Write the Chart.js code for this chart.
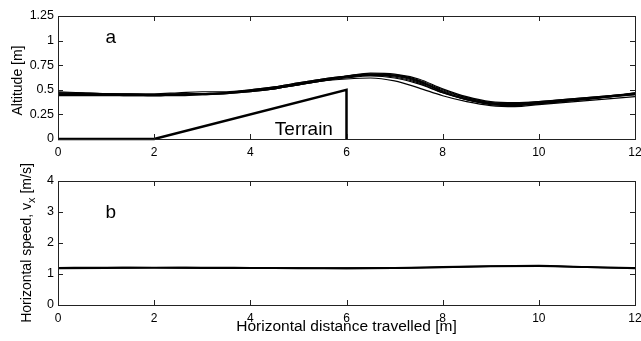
<!DOCTYPE html>
<html lang="en">
<head>
<meta charset="UTF-8">
<title>Altitude and horizontal speed</title>
<script src="https://cdn.jsdelivr.net/npm/chart.js"></script>
<style>
    body { margin: 0; background: #fff; }
    #wrap { position: relative; width: 641px; height: 341px; }
    canvas { position: absolute; left: 0; }
    #topChart { top: 0; }
    #botChart { top: 160px; }
</style>
</head>
<body>
<div id="wrap">
    <canvas id="topChart" width="641" height="160"></canvas>
    <canvas id="botChart" width="641" height="181"></canvas>
</div>
<script>
// distance samples for altitude runs [m]
const dist = [0, 0.5, 1, 1.5, 2, 2.5, 3, 3.5, 4, 4.5, 5, 5.5, 6, 6.5, 7, 7.5, 8, 8.5, 9, 9.5, 10, 10.5, 11, 11.5, 12];

// altitude of each run [m]
const run1 = [0.47,0.47,0.46,0.45,0.44,0.44,0.45,0.46,0.48,0.51,0.55,0.59,0.62,0.64,0.62,0.56,0.47,0.40,0.36,0.35,0.37,0.39,0.41,0.43,0.45];
const run2 = [0.45,0.45,0.45,0.45,0.45,0.46,0.46,0.47,0.49,0.52,0.56,0.60,0.64,0.66,0.65,0.59,0.49,0.42,0.37,0.36,0.37,0.39,0.41,0.43,0.46];
const run3 = [0.48,0.47,0.46,0.46,0.46,0.47,0.48,0.48,0.50,0.53,0.57,0.61,0.64,0.66,0.64,0.58,0.48,0.41,0.36,0.35,0.36,0.38,0.40,0.43,0.47];
const run4 = [0.44,0.44,0.44,0.44,0.44,0.45,0.46,0.47,0.49,0.52,0.56,0.60,0.63,0.65,0.65,0.60,0.50,0.42,0.37,0.36,0.38,0.40,0.42,0.44,0.46];
const run5 = [0.46,0.46,0.45,0.44,0.44,0.45,0.46,0.47,0.50,0.53,0.57,0.61,0.64,0.67,0.66,0.61,0.51,0.43,0.38,0.37,0.38,0.40,0.42,0.44,0.46];
const run6 = [0.45,0.46,0.46,0.45,0.45,0.45,0.46,0.47,0.49,0.51,0.55,0.59,0.61,0.62,0.59,0.52,0.44,0.38,0.34,0.33,0.35,0.37,0.39,0.41,0.43];
const run7 = [0.47,0.46,0.45,0.45,0.45,0.46,0.46,0.47,0.49,0.52,0.56,0.60,0.63,0.65,0.64,0.59,0.48,0.40,0.35,0.34,0.36,0.38,0.41,0.43,0.45];
const run8 = [0.46,0.46,0.46,0.46,0.45,0.45,0.45,0.46,0.48,0.51,0.55,0.59,0.63,0.65,0.63,0.57,0.47,0.40,0.36,0.35,0.36,0.39,0.41,0.44,0.47];
const altRuns = [run1, run2, run3, run4, run5, run6, run7, run8];

// terrain profile
const terrainX = [0, 2, 6, 6];
const terrainY = [0, 0, 0.5, 0];

// horizontal speed [m/s]
const speedDist = [0, 1, 2, 3, 4, 5, 6, 7, 8, 9, 10, 11, 12];
const speed1 = [1.19,1.20,1.21,1.20,1.19,1.19,1.18,1.19,1.22,1.25,1.26,1.23,1.19];
const speed2 = [1.20,1.21,1.20,1.21,1.20,1.19,1.19,1.20,1.23,1.26,1.27,1.22,1.20];
const speed3 = [1.18,1.19,1.20,1.19,1.19,1.18,1.18,1.19,1.21,1.24,1.25,1.22,1.18];
const speedRuns = [speed1, speed2, speed3];

const xTicks = [0, 2, 4, 6, 8, 10, 12];
const altTicks = [0, 0.25, 0.5, 0.75, 1, 1.25];
const speedTicks = [0, 1, 2, 3, 4];

const FONT = "'Liberation Sans', Arial, sans-serif";
Chart.defaults.font.family = FONT;
Chart.defaults.color = '#000';

function pts(xs, ys) {
    return xs.map((x, i) => ({ x: x, y: ys[i] }));
}

// matlab-like box with inward ticks
const boxPlugin = {
    id: 'box',
    afterDatasetsDraw(chart, args, opts) {
        const { ctx, chartArea: a, scales } = chart;
        ctx.save();
        ctx.strokeStyle = '#222';
        ctx.lineWidth = 1;
        ctx.strokeRect(Math.round(a.left) + 0.5, Math.round(a.top) + 0.5,
            Math.round(a.right - a.left), Math.round(a.bottom - a.top));
        const L = 5;
        ctx.beginPath();
        scales.x.ticks.forEach(t => {
            const px = Math.round(scales.x.getPixelForValue(t.value)) + 0.5;
            ctx.moveTo(px, a.bottom); ctx.lineTo(px, a.bottom - L);
            ctx.moveTo(px, a.top); ctx.lineTo(px, a.top + L);
        });
        scales.y.ticks.forEach(t => {
            const py = Math.round(scales.y.getPixelForValue(t.value)) + 0.5;
            ctx.moveTo(a.left, py); ctx.lineTo(a.left + L, py);
            ctx.moveTo(a.right, py); ctx.lineTo(a.right - L, py);
        });
        ctx.stroke();

        // annotations
        ctx.fillStyle = '#000';
        (opts.labels || []).forEach(l => {
            ctx.font = l.size + 'px ' + FONT;
            ctx.textAlign = l.align || 'center';
            ctx.textBaseline = l.baseline || 'middle';
            ctx.fillText(l.text, scales.x.getPixelForValue(l.x), scales.y.getPixelForValue(l.y));
        });

        // y-axis title, rotated
        const t = opts.yTitle;
        if (t) {
            ctx.translate(t.x, (a.top + a.bottom) / 2 + (t.dy || 0));
            ctx.rotate(-Math.PI / 2);
            ctx.textBaseline = 'middle';
            let total = 0;
            t.parts.forEach(p => {
                ctx.font = (p.sub ? 11 : 14) + 'px ' + FONT;
                total += ctx.measureText(p.text).width;
            });
            let cx = -total / 2;
            ctx.textAlign = 'left';
            t.parts.forEach(p => {
                ctx.font = (p.sub ? 11 : 14) + 'px ' + FONT;
                ctx.fillText(p.text, cx, p.sub ? 5 : 0);
                cx += ctx.measureText(p.text).width;
            });
        }
        ctx.restore();
    }
};

function axisX(height, title) {
    return {
        type: 'linear', min: 0, max: 12,
        grid: { display: false, drawTicks: false }, border: { display: false },
        afterBuildTicks: s => { s.ticks = xTicks.map(v => ({ value: v })); },
        ticks: { font: { size: 12 }, padding: 6, maxRotation: 0 },
        title: title ? { display: true, text: title, font: { size: 15.5 }, padding: { top: 5, bottom: 5 } } : { display: false },
        afterFit: s => { s.height = height; s.paddingLeft = 0; s.paddingRight = 6; }
    };
}

function axisY(max, tickList) {
    return {
        type: 'linear', min: 0, max: max,
        grid: { display: false, drawTicks: false }, border: { display: false },
        afterBuildTicks: s => { s.ticks = tickList.map(v => ({ value: v })); },
        ticks: { font: { size: 12.5 }, padding: 4, callback: v => String(v) },
        afterFit: s => { s.width = 58; s.paddingTop = 0; s.paddingBottom = 0; }
    };
}

const altSets = altRuns.map(r => ({
    data: pts(dist, r), borderColor: '#000', borderWidth: 1.2,
    pointRadius: 0, cubicInterpolationMode: 'monotone', fill: false
}));
altSets.push({
    data: pts(terrainX, terrainY), borderColor: '#000', borderWidth: 2.5,
    pointRadius: 0, tension: 0, fill: false, clip: false
});

new Chart(document.getElementById('topChart'), {
    type: 'line',
    data: { datasets: altSets },
    options: {
        responsive: false, animation: false,
        layout: { padding: { top: 16, right: 0, left: 0, bottom: 0 } },
        plugins: {
            legend: { display: false }, tooltip: { enabled: false },
            box: {
                labels: [
                    { text: 'a', x: 1.1, y: 1.03, size: 19 },
                    { text: 'Terrain', x: 4.51, y: 0.0, size: 19, align: 'left', baseline: 'bottom' }
                ],
                yTitle: { x: 18, dy: 3, parts: [{ text: 'Altitude [m]' }] }
            }
        },
        scales: { x: axisX(21), y: axisY(1.25, altTicks) }
    },
    plugins: [boxPlugin]
});

new Chart(document.getElementById('botChart'), {
    type: 'line',
    data: {
        datasets: speedRuns.map(r => ({
            data: pts(speedDist, r), borderColor: '#000', borderWidth: 1.6,
            pointRadius: 0, cubicInterpolationMode: 'monotone', fill: false
        }))
    },
    options: {
        responsive: false, animation: false,
        layout: { padding: { top: 21, right: 0, left: 0, bottom: 0 } },
        plugins: {
            legend: { display: false }, tooltip: { enabled: false },
            box: {
                labels: [{ text: 'b', x: 1.1, y: 2.97, size: 19 }],
                yTitle: { x: 27, dy: 0, parts: [{ text: 'Horizontal speed, v' }, { text: 'x', sub: true }, { text: ' [m/s]' }] }
            }
        },
        scales: { x: axisX(36, 'Horizontal distance travelled [m]'), y: axisY(4, speedTicks) }
    },
    plugins: [boxPlugin]
});
</script>
</body>
</html>
